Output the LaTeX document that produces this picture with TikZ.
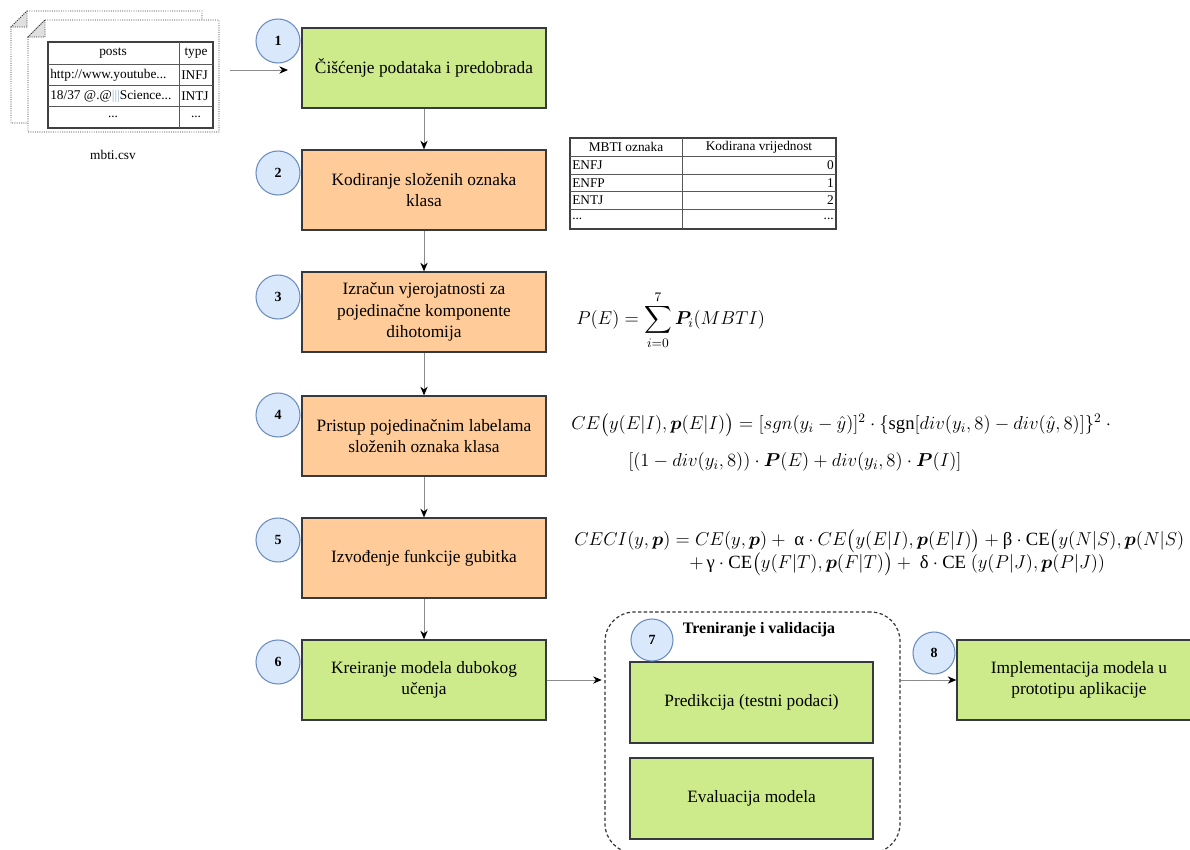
\documentclass[tikz,border=0pt]{standalone}
\usepackage{fix-cm}
\usepackage{amsmath}
\usepackage{bm}
\usepackage{fontspec}
\setmainfont{Liberation Serif}
\usetikzlibrary{arrows.meta}
\definecolor{boxgreen}{HTML}{CDEB8B}
\definecolor{boxorange}{HTML}{FFCC99}
\definecolor{numfill}{HTML}{DAE8FC}
\definecolor{numdraw}{HTML}{6C8EBF}
\definecolor{boxline}{HTML}{36393D}
\begin{document}
\begin{tikzpicture}[x=0.75pt, y=-0.75pt, >={Stealth[length=6.5pt,width=5.5pt,color=black]},
main box/.style={rectangle,draw=boxline,line width=1pt,minimum width=183pt,minimum height=60pt,align=center,font=\fontsize{13}{16}\selectfont},
num node/.style={circle,draw=numdraw,fill=numfill,line width=0.8pt,minimum size=33pt,inner sep=0pt,font=\fontsize{10.5}{12}\selectfont\bfseries},
flow line/.style={draw=black!45,line width=0.6pt,->},
doc line/.style={draw=black!80,densely dotted,line width=0.7pt},
tbl outer/.style={draw=black!75,line width=1.3pt},
tbl inner/.style={draw=black!65,line width=0.6pt},
formula/.style={anchor=west,inner sep=0pt,font=\fontsize{14}{16}\selectfont}]
\useasboundingbox (0,0) rectangle (1190,850);
% mbti.csv
\begin{scope}
\draw[doc line,fill=white] (27,11) -- (202,11) -- (202,123) -- (11,123) -- (11,27) -- cycle;
\draw[doc line,fill=black!12] (27,11) -- (27,27) -- (11,27) -- cycle;
\draw[doc line,fill=white] (45,20) -- (219,20) -- (219,132) -- (28,132) -- (28,37) -- cycle;
\draw[doc line,fill=black!12] (45,20) -- (45,37) -- (28,37) -- cycle;
\draw[tbl outer] (48,42) rectangle (213,128);
\draw[tbl inner] (179,42) -- (179,128) (48,64) -- (213,64) (48,85) -- (213,85) (48,106) -- (213,106);
\end{scope}
\begin{scope}[every node/.style={font=\fontsize{10}{12}\selectfont,inner sep=0pt}]
\node (posts) at (113,53) {posts};
\node (type) at (196,53) {type};
\node[anchor=west] (post a) at (50,75) {http://www.youtube...};
\node[anchor=west] (type a) at (181,75) {INFJ};
\node[anchor=west] (post b) at (50,96) {18/37 @.@\textcolor{numdraw!70}{|||}Science...};
\node[anchor=west] (type b) at (181,96) {INTJ};
\node (post c) at (113,117) {...};
\node (type c) at (196,117) {...};
\node (csv) at (113,155) {mbti.csv};
\coordinate (csv out) at (230,70);
\end{scope}
% MBTI table
\begin{scope}
\draw[tbl outer] (570,138) rectangle (836,229);
\draw[tbl inner] (682,138) -- (682,229) (570,156) -- (836,156) (570,174) -- (836,174) (570,191) -- (836,191) (570,209) -- (836,209);
\end{scope}
\begin{scope}[every node/.style={font=\fontsize{10}{12}\selectfont,inner sep=0pt}]
\node (mbti head) at (626,147) {MBTI oznaka};
\node (code head) at (759,147) {Kodirana vrijednost};
\node[anchor=west] (m1) at (572,165) {ENFJ};
\node[anchor=west] (m2) at (572,183) {ENFP};
\node[anchor=west] (m3) at (572,200) {ENTJ};
\node[anchor=west] (m4) at (572,219) {...};
\node[anchor=east] (k1) at (834,165) {0};
\node[anchor=east] (k2) at (834,183) {1};
\node[anchor=east] (k3) at (834,200) {2};
\node[anchor=east] (k4) at (834,219) {...};
\end{scope}
% steps
\node[main box,fill=boxgreen] (b1) at (424,68) {Čišćenje podataka i predobrada};
\node[main box,fill=boxorange] (b2) at (424,190) {Kodiranje složenih oznaka\\klasa};
\node[main box,fill=boxorange] (b3) at (424,312) {Izračun vjerojatnosti za\\pojedinačne komponente\\dihotomija};
\node[main box,fill=boxorange] (b4) at (424,436) {Pristup pojedinačnim labelama\\složenih oznaka klasa};
\node[main box,fill=boxorange] (b5) at (424,558) {Izvođenje funkcije gubitka};
\node[main box,fill=boxgreen] (b6) at (424,680) {Kreiranje modela dubokog\\učenja};
\node[draw=black!80,dash pattern=on 2.5pt off 1.8pt,line width=0.9pt,rounded corners=22pt,minimum width=221.25pt,minimum height=180.75pt] (train) at (752.5,732.5) {};
\node[font=\fontsize{12}{14}\selectfont\bfseries] (train title) at (759,630) {Treniranje i validacija};
\node[main box,fill=boxgreen,minimum width=182.25pt,minimum height=60.75pt] (pred) at (751.5,702.5) {Predikcija (testni podaci)};
\node[main box,fill=boxgreen,minimum width=182.25pt,minimum height=60.75pt] (eval) at (751.5,798.5) {Evaluacija modela};
\node[main box,fill=boxgreen] (b8) at (1079,680) {Implementacija modela u\\prototipu aplikacije};
\begin{scope}
\node[num node] (c1) at (278,41) {1};
\node[num node] (c2) at (278,173) {2};
\node[num node] (c3) at (278,297) {3};
\node[num node] (c4) at (278,415) {4};
\node[num node] (c5) at (278,540) {5};
\node[num node] (c6) at (278,662) {6};
\node[num node,minimum size=31.5pt] (c7) at (652,640) {7};
\node[num node,minimum size=31.5pt] (c8) at (934,653) {8};
\end{scope}
\begin{scope}
\draw[flow line,shorten >=10pt] (csv out) -- (csv out -| b1.west);
\draw[flow line] (b1) -- (b2);
\draw[flow line] (b2) -- (b3);
\draw[flow line] (b3) -- (b4);
\draw[flow line] (b4) -- (b5);
\draw[flow line] (b5) -- (b6);
\draw[flow line,shorten >=2pt] (b6.east) -- (b6.east -| train.west);
\draw[flow line] (train.east |- b8.west) -- (b8.west);
\end{scope}
% formulas
\node[formula] (pe) at (576,320) {$\displaystyle P(E)=\sum_{i=0}^{7}\bm{P}_i(MBTI)$};
\node[formula] (ce a) at (571,425) {$CE\bigl(y(E|I),\bm{p}(E|I)\bigr)=[sgn(y_i-\hat{y})]^2\cdot\{\mathrm{sgn}[div(y_i,8)-div(\hat{y},8)]\}^2\cdot{}$};
\node[formula] (ce b) at (628,462) {$[(1-div(y_i,8))\cdot\bm{P}(E)+div(y_i,8)\cdot\bm{P}(I)]$};
\node[formula] (ceci a) at (574,541) {$CECI(y,\bm{p})=CE(y,\bm{p})+\ \text{α}\cdot CE\bigl(y(E|I),\bm{p}(E|I)\bigr)+\text{β}\cdot\mathrm{CE}\bigl(y(N|S),\bm{p}(N|S)$};
\node[formula] (ceci b) at (689,564) {$+\,\text{γ}\cdot\mathrm{CE}\bigl(y(F|T),\bm{p}(F|T)\bigr)+\ \text{δ}\cdot\mathrm{CE}\ (y(P|J),\bm{p}(P|J))$};
\end{tikzpicture}
\end{document}
